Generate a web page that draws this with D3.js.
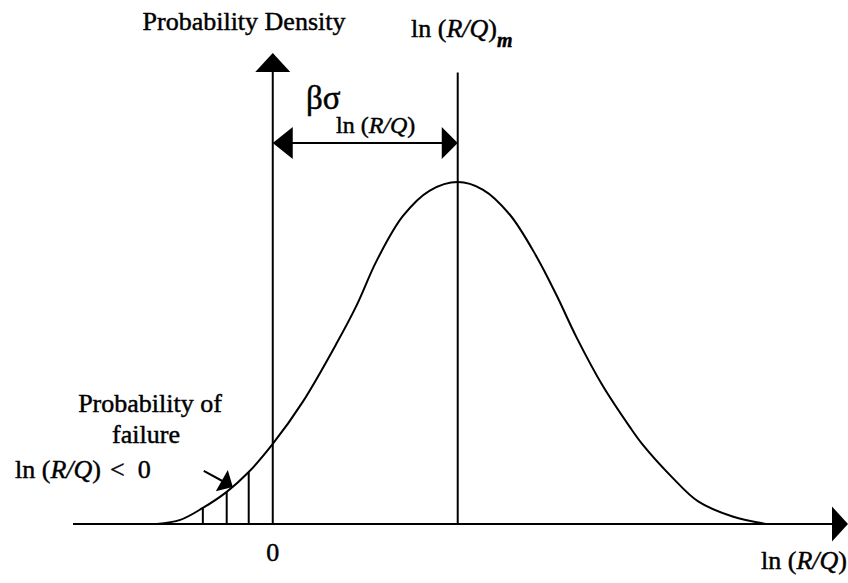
<!DOCTYPE html>
<html>
<head>
<meta charset="utf-8">
<script src="https://cdn.jsdelivr.net/npm/d3@7"></script>
<style>
  body { margin: 0; background: #fff; }
  svg text { font-family: "Liberation Serif", "Times New Roman", serif; fill: #000; stroke: #000; stroke-width: 0.45px; }
</style>
</head>
<body>
<svg id="chart" width="848" height="583"></svg>
<script>
// density curve: x in ln(R/Q) units (mean = 1), y as fraction of peak
var curveX = [-0.627, -0.5, -0.378, -0.249, -0.130, 0, 0.162, 0.346, 0.454, 0.562, 0.703, 0.849, 1.0,
              1.135, 1.281, 1.427, 1.535, 1.643, 1.784, 1.930, 2.0, 2.162, 2.3, 2.486, 2.670];
var curveY = [0, 0.012, 0.047, 0.094, 0.152, 0.234, 0.357, 0.529, 0.640, 0.770, 0.900, 0.975, 1.0,
              0.978, 0.905, 0.781, 0.668, 0.545, 0.404, 0.284, 0.232, 0.135, 0.066, 0.022, 0];

// hatch lines in the failure region
var hatchX = [-0.378, -0.249, -0.130];
var hatchY = [0.047, 0.094, 0.152];

// axis extents
var xAxisMin = -1.08, xAxisMax = 3.11;
var yAxisTop = 1.377, meanLineTop = 1.32;
var meanX = 1.0, betaSigmaY = 1.114;

// pointer to failure region (start of line, end of line, arrow triangle)
var pointerLine = [[-0.373, 0.155], [-0.27, 0.125]];
var pointerHead = [[-0.243, 0.158], [-0.308, 0.096], [-0.216, 0.108]];

var svg = d3.select("#chart");

var x = d3.scaleLinear()
    .domain([xAxisMin, xAxisMax])
    .range([73, 848]);

var y = d3.scaleLinear()
    .domain([0, 1])
    .range([524, 182]);

var stroke = "#000";

//x axis line with arrowhead
svg.append("line")
    .attr("x1", x(xAxisMin)).attr("x2", x(xAxisMax) - 10)
    .attr("y1", y(0)).attr("y2", y(0))
    .attr("stroke", stroke).attr("stroke-width", 2);
svg.append("path")
    .attr("d", "M" + x(xAxisMax) + "," + y(0) +
               "L" + (x(xAxisMax) - 16) + "," + (y(0) - 17.5) +
               "L" + (x(xAxisMax) - 16) + "," + (y(0) + 17.5) + "Z")
    .attr("fill", stroke);

//y axis (at ln(R/Q) = 0) with arrowhead
svg.append("line")
    .attr("x1", x(0)).attr("x2", x(0))
    .attr("y1", y(0)).attr("y2", y(yAxisTop) + 10)
    .attr("stroke", stroke).attr("stroke-width", 2);
svg.append("path")
    .attr("d", "M" + x(0) + "," + y(yAxisTop) +
               "L" + (x(0) - 17.5) + "," + (y(yAxisTop) + 19) +
               "L" + (x(0) + 17.5) + "," + (y(yAxisTop) + 19) + "Z")
    .attr("fill", stroke);

//mean line
svg.append("line")
    .attr("x1", x(meanX)).attr("x2", x(meanX))
    .attr("y1", y(0)).attr("y2", y(meanLineTop))
    .attr("stroke", stroke).attr("stroke-width", 2);

//hatch lines
svg.selectAll(".hatch")
    .data(hatchX)
    .enter().append("line")
    .attr("class", "hatch")
    .attr("x1", function(d) { return x(d); })
    .attr("x2", function(d) { return x(d); })
    .attr("y1", y(0))
    .attr("y2", function(d, i) { return y(hatchY[i]); })
    .attr("stroke", stroke).attr("stroke-width", 2);

//density curve
var pts = curveX.map(function(d, i) { return [d, curveY[i]]; });
svg.append("path")
    .datum(pts)
    .attr("fill", "none")
    .attr("stroke", stroke)
    .attr("stroke-width", 2)
    .attr("d", d3.line()
        .x(function(d) { return x(d[0]); })
        .y(function(d) { return y(d[1]); })
        .curve(d3.curveCatmullRom.alpha(0.5)));

//beta sigma dimension arrow
var by = y(betaSigmaY);
svg.append("line")
    .attr("x1", x(0) + 10).attr("x2", x(meanX) - 10)
    .attr("y1", by).attr("y2", by)
    .attr("stroke", stroke).attr("stroke-width", 2);
svg.append("path")
    .attr("d", "M" + x(0) + "," + by + "L" + (x(0) + 20) + "," + (by - 16) +
               "L" + (x(0) + 20) + "," + (by + 16) + "Z")
    .attr("fill", stroke);
svg.append("path")
    .attr("d", "M" + x(meanX) + "," + by + "L" + (x(meanX) - 16) + "," + (by - 16) +
               "L" + (x(meanX) - 16) + "," + (by + 16) + "Z")
    .attr("fill", stroke);

//pointer arrow to failure region
svg.append("line")
    .attr("x1", x(pointerLine[0][0])).attr("y1", y(pointerLine[0][1]))
    .attr("x2", x(pointerLine[1][0])).attr("y2", y(pointerLine[1][1]))
    .attr("stroke", stroke).attr("stroke-width", 2);
svg.append("path")
    .attr("d", d3.line()(pointerHead.map(function(p) { return [x(p[0]), y(p[1])]; })) + "Z")
    .attr("fill", stroke);

//helper for "ln (R/Q)" text with italic R and Q
function lnRQ(sel) {
    sel.append("tspan").text("ln (");
    sel.append("tspan").attr("font-style", "italic").text("R/Q");
    sel.append("tspan").text(")");
}

//labels
svg.append("text")
    .attr("x", 244).attr("y", 30)
    .attr("text-anchor", "middle")
    .attr("font-size", 26)
    .text("Probability Density");

var mLabel = svg.append("text")
    .attr("x", 411).attr("y", 37)
    .attr("font-size", 26);
lnRQ(mLabel);
mLabel.append("tspan")
    .attr("dy", 10)
    .attr("font-size", 20)
    .attr("font-style", "italic")
    .attr("font-weight", "bold")
    .text("m");

svg.append("text")
    .attr("x", 306).attr("y", 109)
    .attr("font-size", 33)
    .text("βσ");
var subLabel = svg.append("text")
    .attr("x", 336).attr("y", 133)
    .attr("font-size", 24);
lnRQ(subLabel);

svg.append("text")
    .attr("x", 150).attr("y", 412)
    .attr("text-anchor", "middle")
    .attr("font-size", 26)
    .text("Probability of");
svg.append("text")
    .attr("x", 146).attr("y", 443)
    .attr("text-anchor", "middle")
    .attr("font-size", 26)
    .text("failure");

var failLabel = svg.append("text")
    .attr("x", 15).attr("y", 478)
    .attr("font-size", 26);
lnRQ(failLabel);
failLabel.append("tspan").attr("dx", 9).text("<");
failLabel.append("tspan").attr("dx", 13).text("0");

svg.append("text")
    .attr("x", x(0)).attr("y", 561)
    .attr("text-anchor", "middle")
    .attr("font-size", 26)
    .text("0");

var axisLabel = svg.append("text")
    .attr("x", 847).attr("y", 569)
    .attr("text-anchor", "end")
    .attr("font-size", 26);
lnRQ(axisLabel);
</script>
</body>
</html>
